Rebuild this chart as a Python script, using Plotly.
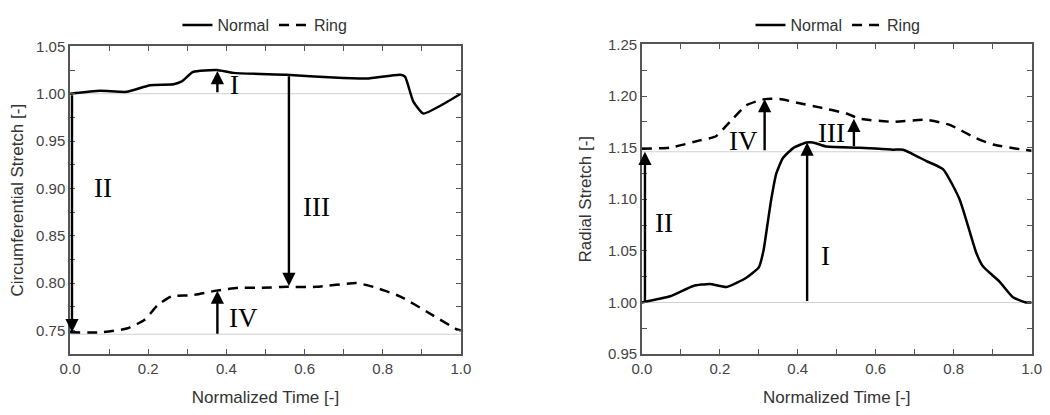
import plotly.graph_objects as go
from plotly.subplots import make_subplots

# left panel: circumferential stretch
circ_t_normal = [0.0, 0.077, 0.145, 0.205, 0.265, 0.286, 0.315, 0.375, 0.418, 0.554, 0.674, 0.759,
                 0.844, 0.857, 0.878, 0.904, 0.946, 1.0]
circ_normal = [1.000, 1.003, 1.002, 1.009, 1.010, 1.013, 1.023, 1.025, 1.022, 1.020, 1.017, 1.016,
               1.020, 1.018, 0.992, 0.979, 0.987, 1.000]
circ_t_ring = [0.0, 0.077, 0.145, 0.19, 0.225, 0.26, 0.31, 0.375, 0.43, 0.49, 0.554, 0.63, 0.733,
               0.776, 0.844, 0.912, 0.99, 1.0]
circ_ring = [0.748, 0.748, 0.752, 0.761, 0.777, 0.786, 0.787, 0.792, 0.795, 0.795, 0.796, 0.796,
             0.800, 0.796, 0.786, 0.770, 0.751, 0.750]
circ_refs = [1.000, 0.746]

# right panel: radial stretch
rad_t_normal = [0.0, 0.072, 0.132, 0.174, 0.217, 0.268, 0.300, 0.312, 0.322, 0.332, 0.345, 0.362,
                0.390, 0.422, 0.439, 0.474, 0.559, 0.644, 0.67, 0.73, 0.773, 0.815, 0.858, 0.875,
                0.918, 0.952, 0.986, 1.0]
rad_normal = [1.000, 1.006, 1.016, 1.018, 1.015, 1.024, 1.034, 1.050, 1.075, 1.100, 1.125, 1.140,
              1.150, 1.155, 1.155, 1.151, 1.150, 1.148, 1.148, 1.137, 1.129, 1.100, 1.048, 1.035,
              1.020, 1.005, 1.000, 1.000]
rad_t_ring = [0.0, 0.072, 0.149, 0.19, 0.226, 0.268, 0.315, 0.354, 0.405, 0.456, 0.525, 0.559, 0.644,
              0.73, 0.79, 0.858, 0.901, 0.978, 1.0]
rad_ring = [1.149, 1.150, 1.157, 1.161, 1.175, 1.191, 1.197, 1.197, 1.193, 1.189, 1.183, 1.178,
            1.175, 1.177, 1.172, 1.159, 1.153, 1.148, 1.147]
rad_refs = [1.146, 1.000]

# arrows: (x, y_tail, y_head), labels: (text, x, y)
circ_arrows = [(0.377, 1.000, 1.024), (0.005, 1.000, 0.748), (0.56, 1.020, 0.797), (0.377, 0.745, 0.792)]
circ_labels = [("I", 0.42, 1.009), ("II", 0.085, 0.900), ("III", 0.63, 0.880), ("IV", 0.445, 0.763)]
rad_arrows = [(0.008, 1.000, 1.146), (0.424, 1.000, 1.155), (0.315, 1.146, 1.197), (0.544, 1.150, 1.178)]
rad_labels = [("II", 0.057, 1.077), ("I", 0.47, 1.045), ("IV", 0.26, 1.156), ("III", 0.487, 1.164)]

x_ticks = [round(i * 0.1, 1) for i in range(11)]
x_ticktext = ["0.0", "", "0.2", "", "0.4", "", "0.6", "", "0.8", "", "1.0"]
circ_yticks = [0.725 + i * 0.025 for i in range(14)]
circ_yticktext = ["", "0.75", "", "0.80", "", "0.85", "", "0.90", "", "0.95", "", "1.00", "", "1.05"]
rad_yticks = [0.95 + i * 0.025 for i in range(13)]
rad_yticktext = ["0.95", "", "1.00", "", "1.05", "", "1.10", "", "1.15", "", "1.20", "", "1.25"]

fig = make_subplots(rows=1, cols=2)

solid = dict(color="black", width=2.5, shape="spline", smoothing=0.5)
dashed = dict(color="black", width=2.5, dash="10px,7px", shape="spline", smoothing=0.5)
fig.add_trace(go.Scatter(x=circ_t_normal, y=circ_normal, mode="lines", name="Normal",
                         line=solid, legend="legend"), row=1, col=1)
fig.add_trace(go.Scatter(x=circ_t_ring, y=circ_ring, mode="lines", name="Ring",
                         line=dashed, legend="legend"), row=1, col=1)
fig.add_trace(go.Scatter(x=rad_t_normal, y=rad_normal, mode="lines", name="Normal",
                         line=solid, legend="legend2"), row=1, col=2)
fig.add_trace(go.Scatter(x=rad_t_ring, y=rad_ring, mode="lines", name="Ring",
                         line=dashed, legend="legend2"), row=1, col=2)

for ref in circ_refs:
    fig.add_shape(type="line", xref="x", yref="y", x0=0, x1=1, y0=ref, y1=ref,
                  line=dict(color="#d0d0d0", width=1), layer="below")
for ref in rad_refs:
    fig.add_shape(type="line", xref="x2", yref="y2", x0=0, x1=1, y0=ref, y1=ref,
                  line=dict(color="#d0d0d0", width=1), layer="below")

serif = dict(family="Liberation Serif, Times New Roman, serif", size=27, color="black")
for axes, arrows, labels in [(("x", "y"), circ_arrows, circ_labels), (("x2", "y2"), rad_arrows, rad_labels)]:
    xr, yr = axes
    for xa, y0, y1 in arrows:
        fig.add_annotation(x=xa, y=y1, ax=xa, ay=y0, xref=xr, yref=yr, axref=xr, ayref=yr,
                           text="", showarrow=True, arrowhead=2, arrowsize=1.1, arrowwidth=2.4,
                           arrowcolor="black")
    for txt, xl, yl in labels:
        fig.add_annotation(x=xl, y=yl, xref=xr, yref=yr, text=txt, showarrow=False, font=serif)

axis_common = dict(showline=True, linecolor="#555", linewidth=1.5, mirror="allticks",
                   ticks="inside", ticklen=5, tickwidth=1.3, tickcolor="#555",
                   showgrid=False, zeroline=False, automargin=False,
                   tickfont=dict(family="Liberation Sans, Arial", size=15, color="#444"),
                   title_font=dict(family="Liberation Sans, Arial", size=17, color="#333"))

# page body has an 8px margin, so the figure is 1034x399 and domains are offset accordingly
fig.update_xaxes(axis_common, range=[0, 1], tickvals=x_ticks, ticktext=x_ticktext,
                 ticklabeloverflow="allow", title_text="Normalized Time [-]", title_standoff=16)
fig.update_layout(
    xaxis=dict(domain=[0.060, 0.438]),
    xaxis2=dict(domain=[0.613, 0.990]),
    yaxis=dict(axis_common, domain=[0.135, 0.920], range=[0.725, 1.05], tickvals=circ_yticks,
               ticktext=circ_yticktext, title_text="Circumferential Stretch [-]", title_standoff=24),
    yaxis2=dict(axis_common, domain=[0.135, 0.925], range=[0.95, 1.25], tickvals=rad_yticks,
                ticktext=rad_yticktext, title_text="Radial Stretch [-]", title_standoff=12),
    legend=dict(orientation="h", x=0.2485, y=0.975, xanchor="center", yanchor="middle",
                bgcolor="rgba(0,0,0,0)",
                font=dict(family="Liberation Sans, Arial", size=16, color="#333")),
    legend2=dict(orientation="h", x=0.8027, y=0.975, xanchor="center", yanchor="middle",
                 bgcolor="rgba(0,0,0,0)",
                 font=dict(family="Liberation Sans, Arial", size=16, color="#333")),
    width=1034, height=399,
    margin=dict(l=0, r=0, t=0, b=0),
    plot_bgcolor="white", paper_bgcolor="white",
)

fig.write_html("out.html")
